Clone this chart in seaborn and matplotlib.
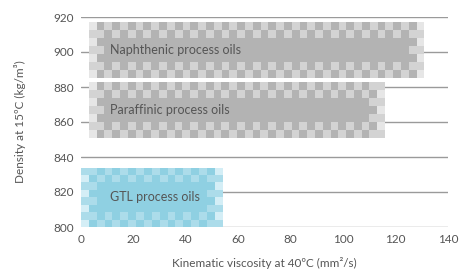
import numpy as np
import matplotlib
matplotlib.use("Agg")
import matplotlib.pyplot as plt
import seaborn as sns

# oil families: viscosity range (mm2/s) and density range (kg/m3)
oils = ["Naphthenic process oils", "Paraffinic process oils", "GTL process oils"]
visc_lo = [3, 3, 0]
visc_hi = [131, 116, 54]
dens_lo = [885, 851, 800]
dens_hi = [917, 883, 834]
shades = [("#b3b3b3", "#d3d3d3", "#e6e6e6"),
          ("#b3b3b3", "#d3d3d3", "#e6e6e6"),
          ("#8fd0e2", "#acdcea", "#d4eef6")]

x_ticks = [0, 20, 40, 60, 80, 100, 120, 140]
y_ticks = [800, 820, 840, 860, 880, 900, 920]

sns.set_style("white")
plt.rcParams['font.family'] = ['Lato', 'DejaVu Sans']
txt = "#555555"

fig = plt.figure(figsize=(4.61, 2.74), dpi=100)
ax = fig.add_axes([81 / 461, 1 - 227 / 274, 367 / 461, 210 / 274])
ax.set_xlim(0, 140)
ax.set_ylim(800, 920)

for y in y_ticks:
    ax.axhline(y, color="#9a9a9a", lw=1.0, zorder=1)

# pixel scale used to build the checkered fill
px_x = 367 / 140
px_y = 210 / 120
cell = 7.8

for name, x0, x1, y0, y1, (dark, light, pale) in zip(oils, visc_lo, visc_hi, dens_lo, dens_hi, shades):
    nx = max(int(round((x1 - x0) * px_x / cell)), 4)
    ny = max(int(round((y1 - y0) * px_y / cell)), 4)
    xs = np.linspace(x0, x1, nx + 1)
    ys = np.linspace(y0, y1, ny + 1)
    for j in range(ny):
        for i in range(nx):
            border = i < 2 or i >= nx - 2 or j < 2 or j >= ny - 2
            if border and (i + j) % 2 == 0:
                c = pale if i in (0, nx - 1) else light
            else:
                c = light if i in (0, nx - 1) else dark
            ax.fill_between([xs[i], xs[i + 1]], ys[j], ys[j + 1],
                            color=c, lw=0, zorder=2)
    ax.text(11, (y0 + y1) / 2, name,
            fontsize=9, color=txt, va="center", ha="left", zorder=3)

sns.despine(ax=ax, left=True, bottom=True)
ax.set_xticks(x_ticks)
ax.set_yticks(y_ticks)
ax.tick_params(length=0, labelsize=8.5, labelcolor=txt, pad=5)
ax.set_xlabel("Kinematic viscosity at 40ºC (mm²/s)", fontsize=8.5, color=txt, labelpad=9)
ax.set_ylabel("Density at 15ºC (kg/m³)", fontsize=8.5, color=txt, labelpad=20)

fig.savefig("out.png", dpi=100)
